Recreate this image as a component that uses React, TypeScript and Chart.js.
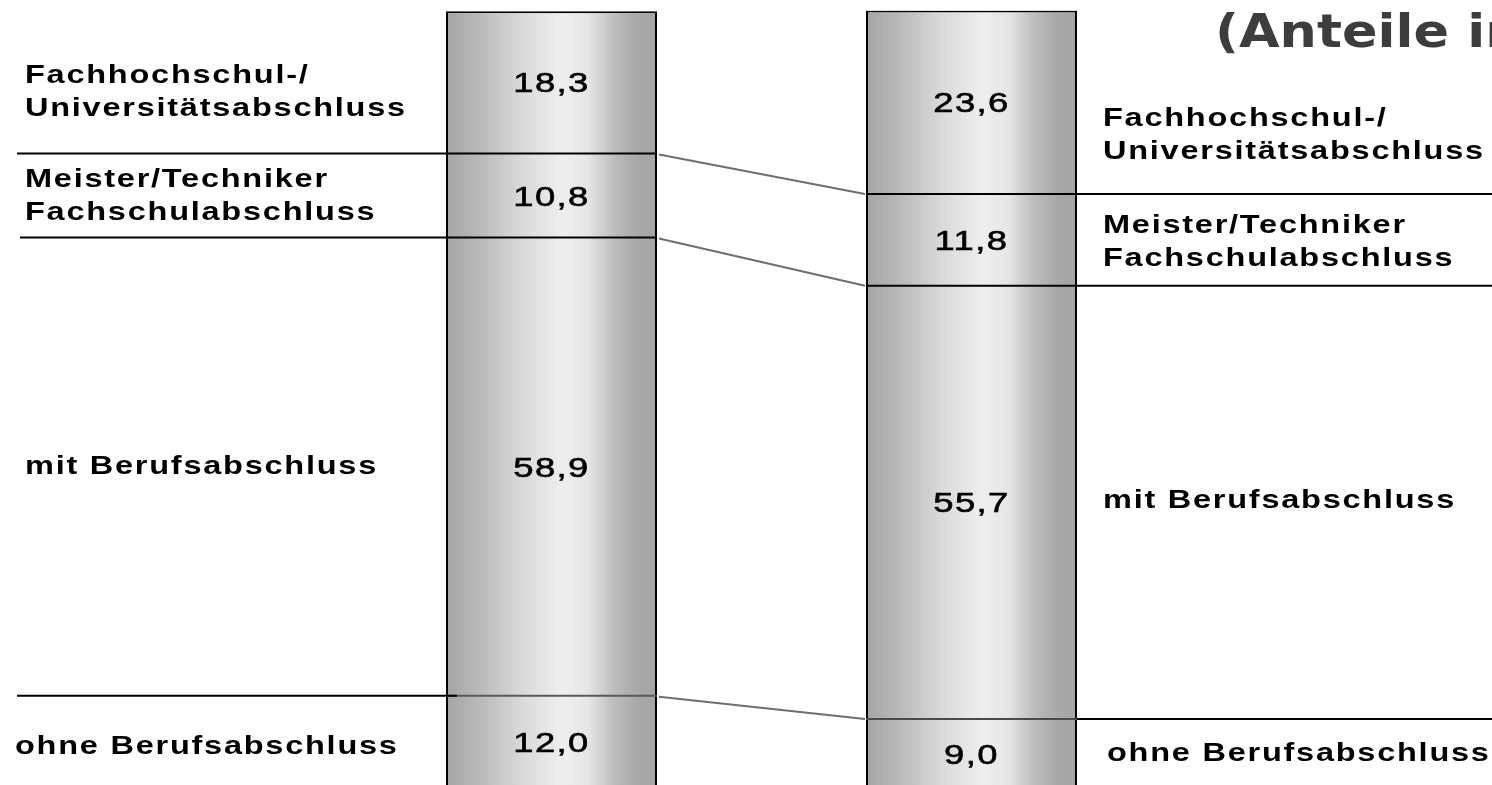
import React, { useEffect, useRef } from "react";
import { Chart, registerables } from "chart.js";

Chart.register(...registerables);

// ---- data ----
const bars = ["Balken 1", "Balken 2"];
const ohneBerufsabschluss = [12.0, 9.0];
const mitBerufsabschluss = [58.9, 55.7];
const meisterTechniker = [10.8, 11.8];
const fachhochschulUni = [18.3, 23.6];
const seriesNames = [
  "ohne Berufsabschluss",
  "mit Berufsabschluss",
  "Meister/Techniker Fachschulabschluss",
  "Fachhochschul-/ Universitätsabschluss",
];
const labelLines = [
  ["ohne Berufsabschluss"],
  ["mit Berufsabschluss"],
  ["Meister/Techniker", "Fachschulabschluss"],
  ["Fachhochschul-/", "Universitätsabschluss"],
];
const titleText = "(Anteile in %)";

// ---- style ----
const BAR_PCT = 0.5024;
const SX = 1.3;
const LABEL_FONT = "bold 25px 'Liberation Sans', Arial, sans-serif";
const VALUE_FONT = "28px 'Liberation Sans', Arial, sans-serif";
const TITLE_FONT = "bold 46px 'DejaVu Sans', Verdana, sans-serif";
const LINE_GAP = 33;
const leftOffsets = [3, -2, -1, 8.5];
const rightOffsets = [-2, -3, 1, 31];

function gradFor(ctx: any) {
  const chart = ctx.chart;
  const xs = chart.scales && chart.scales.x;
  if (ctx.type !== "data" || !xs || !chart.chartArea) return "#cccccc";
  const cx = xs.getPixelForValue(ctx.dataIndex);
  const step = xs.getPixelForValue(1) - xs.getPixelForValue(0);
  const w = step * BAR_PCT;
  const g = chart.ctx.createLinearGradient(cx - w / 2, 0, cx + w / 2, 0);
  g.addColorStop(0, "#a4a4a4");
  g.addColorStop(0.15, "#b8b8b8");
  g.addColorStop(0.35, "#d8d8d8");
  g.addColorStop(0.55, "#eeeeee");
  g.addColorStop(0.67, "#e6e6e6");
  g.addColorStop(0.8, "#bcbcbc");
  g.addColorStop(0.9, "#a9a9a9");
  g.addColorStop(1, "#a4a4a4");
  return g;
}

function drawText(
  c: CanvasRenderingContext2D,
  text: string,
  x: number,
  y: number,
  font: string,
  sx: number,
  ls: number,
  align: CanvasTextAlign,
  color = "#000",
  stroke = 0
) {
  c.save();
  c.font = font;
  (c as any).letterSpacing = ls + "px";
  c.fillStyle = color;
  c.textAlign = align;
  c.textBaseline = "alphabetic";
  c.translate(x, y);
  c.scale(sx, 1);
  c.fillText(text, 0, 0);
  if (stroke > 0) {
    c.strokeStyle = color;
    c.lineWidth = stroke;
    c.strokeText(text, 0, 0);
  }
  c.restore();
}

function line(c: CanvasRenderingContext2D, x1: number, y1: number, x2: number, y2: number, color: string, w = 2) {
  c.save();
  c.strokeStyle = color;
  c.lineWidth = w;
  c.beginPath();
  c.moveTo(x1, y1);
  c.lineTo(x2, y2);
  c.stroke();
  c.restore();
}

const decorPlugin = {
  id: "decor",
  afterDatasetsDraw(chart: any) {
    const c: CanvasRenderingContext2D = chart.ctx;
    const metas = chart.data.datasets.map((_: any, i: number) => chart.getDatasetMeta(i));
    const el = (ds: number, bi: number) => metas[ds].data[bi];
    const b1 = el(0, 0);
    const b2 = el(0, 1);
    const b1L = b1.x - b1.width / 2;
    const b1R = b1.x + b1.width / 2;
    const b2L = b2.x - b2.width / 2;
    const b2R = b2.x + b2.width / 2;
    const W = chart.width;

    // boundaries (top of datasets 0..2)
    for (let ds = 0; ds < 3; ds++) {
      const y1 = el(ds, 0).y;
      const y2 = el(ds, 1).y;
      if (ds === 0) {
        line(c, b1L, y1, b1R, y1, "#5a5a5a");
        line(c, 17, y1, b1L + 11, y1, "#000");
        line(c, b2L, y2, b2R, y2, "#4a4a4a");
        line(c, b2R, y2, W, y2, "#000");
      } else {
        line(c, ds === 1 ? 20 : 17, y1, b1R, y1, "#000");
        line(c, b2L, y2, W, y2, "#000");
      }
      line(c, b1R + 2, y1 + 1, b2L - 1, y2, "#6e6e6e", 2);
    }

    // values
    for (let ds = 0; ds < metas.length; ds++) {
      for (let bi = 0; bi < 2; bi++) {
        const e = el(ds, bi);
        const v = chart.data.datasets[ds].data[bi] as number;
        const cy = (e.y + e.base) / 2;
        drawText(c, v.toFixed(1).replace(".", ","), e.x, cy + 10, VALUE_FONT, SX, 1.1, "center", "#000", 0.6);
      }
    }

    // category labels
    for (let ds = 0; ds < metas.length; ds++) {
      const lines = labelLines[ds];
      const e1 = el(ds, 0);
      const e2 = el(ds, 1);
      const c1 = (e1.y + e1.base) / 2 + leftOffsets[ds];
      const c2 = (e2.y + e2.base) / 2 + rightOffsets[ds];
      const n = lines.length;
      lines.forEach((t, i) => {
        const off = (i - (n - 1) / 2) * LINE_GAP + 9;
        drawText(c, t, ds === 0 ? 15 : 25, c1 + off, LABEL_FONT, SX, 1.35, "left");
        drawText(c, t, ds === 0 ? 1107 : 1103, c2 + off, LABEL_FONT, SX, 1.35, "left");
      });
    }

    // title
    drawText(c, titleText, 1215, 47, TITLE_FONT, 1.14, 0, "left", "#3d3d3d");
  },
};

export default function App() {
  const ref = useRef<HTMLCanvasElement | null>(null);

  useEffect(() => {
    document.body.style.margin = "0";
    if (!ref.current) return;
    const datasetValues = [ohneBerufsabschluss, mitBerufsabschluss, meisterTechniker, fachhochschulUni];
    const chart = new Chart(ref.current, {
      type: "bar",
      data: {
        labels: bars,
        datasets: datasetValues.map((vals, i) => ({
          label: seriesNames[i],
          data: vals,
          backgroundColor: gradFor,
          borderColor: "#000",
          borderWidth: i === 3 ? { left: 2, right: 2, top: 2, bottom: 0 } : { left: 2, right: 2, top: 0, bottom: 0 },
          borderSkipped: false,
          barPercentage: BAR_PCT,
          categoryPercentage: 1,
        })),
      },
      options: {
        animation: false,
        responsive: true,
        maintainAspectRatio: false,
        layout: { padding: { left: 341.5, right: 310.5, top: 10.5, bottom: 11 } },
        plugins: { legend: { display: false }, tooltip: { enabled: false }, title: { display: false } },
        scales: {
          x: { stacked: true, display: false },
          y: { stacked: true, display: false, min: 0, max: 100.1 },
        },
      },
      plugins: [decorPlugin],
    });
    return () => chart.destroy();
  }, []);

  return (
    <div style={{ width: 1492, height: 785, overflow: "hidden", background: "#fff" }}>
      <div style={{ position: "relative", width: 1492, height: 800 }}>
        <canvas ref={ref} />
      </div>
    </div>
  );
}
